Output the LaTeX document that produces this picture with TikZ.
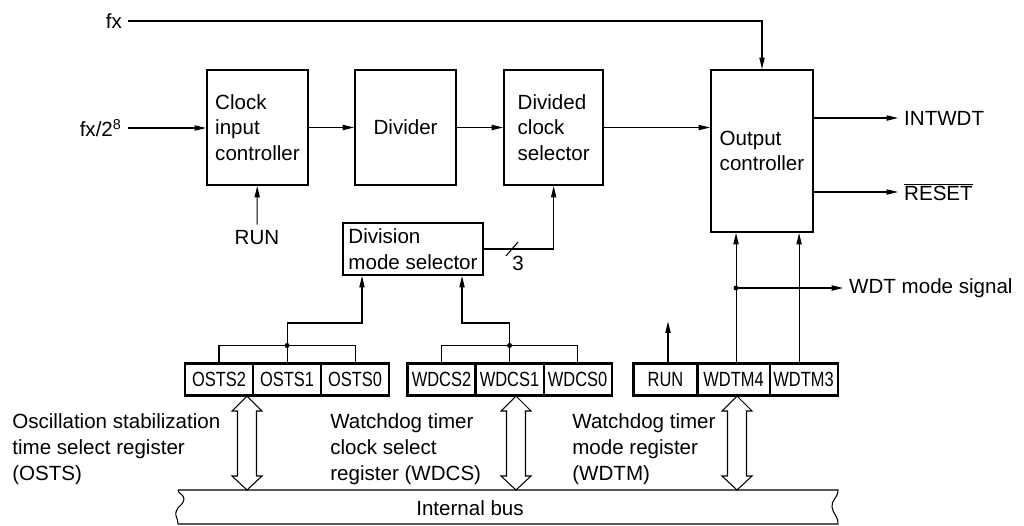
\documentclass[tikz,border=0pt]{standalone}
\usepackage{fontspec}
\setmainfont{Liberation Sans}
\usetikzlibrary{arrows.meta,positioning}
\tikzset{blk/.style={draw,line width=1.2pt,align=left,inner sep=2pt},
 regbit/.style={draw,line width=0.6pt,minimum width=1.34cm,minimum height=0.62cm,inner sep=0pt},
 sig/.style={-{Triangle[length=6.5pt,width=3pt]},line width=0.6pt},
 wire/.style={line width=0.6pt},
 regframe/.style={line width=1.2pt},
 lbl/.style={inner sep=0pt,align=left}}
\newcommand{\regtxt}[1]{\scalebox{0.8}[1]{#1}}
\newcommand{\busarrow}[2]{\draw[wire,fill=white] (#1) -- ++(15,15) -- ++(-5.5,0) -- ([shift={(9.5,-14)}]#2) -- ++(5.5,0) -- (#2) -- ++(-15,-14) -- ++(5.5,0) -- ([shift={(-9.5,15)}]#1) -- ++(-5.5,0) -- cycle;}

\begin{document}
\begin{tikzpicture}[x=0.02cm,y=-0.02cm,font=\fontsize{11.7}{14.7}\selectfont]
\useasboundingbox (0,0) rectangle (1024,525);
% blocks
\node[blk,minimum width=2.02cm,minimum height=2.3cm] (clkin) at (257.5,127.5) {Clock\\input\\controller};
\node[blk,minimum width=2.02cm,minimum height=2.3cm,right=0.9cm of clkin,align=center] (divider) {Divider};
\node[blk,minimum width=1.98cm,minimum height=2.3cm,right=0.92cm of divider] (divsel) {Divided\\clock\\selector};
\node[blk,minimum width=2.04cm,minimum height=3.24cm] (outctl) at (762,151) {Output\\controller};
\node[blk,minimum width=2.8cm,minimum height=1.04cm] (modesel) at (413,249) {Division\\mode selector};
% inputs
\node[anchor=east] (fxin) at (128,21) {fx};
\node[anchor=east] (fx8in) at (128,128) {fx/2\textsuperscript{8}};
\node (runin) at (257,238) {RUN};
\draw[sig] (fxin) -| (outctl);
\draw[sig] (fx8in.east) -- (fx8in.east -| clkin.west);
\draw[sig] (clkin) -- (divider);
\draw[sig] (divider) -- (divsel);
\draw[sig] (divsel) -- (divsel.east -| outctl.west);
\draw[sig] (runin) -- (clkin);
% outputs
\node[anchor=west] (intwdt) at (898,118) {INTWDT};
\node[anchor=west] (rstout) at (898,192) {$\overline{\mbox{RESET}}$};
\draw[sig] (outctl.east |- intwdt.west) -- (intwdt.west);
\draw[sig] (outctl.east |- rstout.west) -- (rstout.west);
% 3-bit select
\draw[sig] (modesel) -| (divsel);
\coordinate (w3) at (512,249);
\draw[wire] ([shift={(-6,7)}]w3) -- ([shift={(6,-7)}]w3);
\node (w3txt) at (518,263) {3};
% registers
\node[regbit] (osts2) at (219,379.5) {\regtxt{OSTS2}};
\node[regbit,right=0pt of osts2] (osts1) {\regtxt{OSTS1}};
\node[regbit,right=0pt of osts1] (osts0) {\regtxt{OSTS0}};
\draw[regframe] (osts2.north west) rectangle (osts0.south east);
\node[regbit] (wdcs2) at (441.5,379.5) {\regtxt{WDCS2}};
\node[regbit,right=0pt of wdcs2] (wdcs1) {\regtxt{WDCS1}};
\node[regbit,right=0pt of wdcs1] (wdcs0) {\regtxt{WDCS0}};
\draw[regframe] (wdcs2.north west) rectangle (wdcs0.south east);
\node[regbit,minimum width=1.26cm] (runbit) at (665.5,379.5) {\regtxt{RUN}};
\node[regbit,minimum width=1.42cm,right=0pt of runbit] (wdtm4) {\regtxt{WDTM4}};
\node[regbit,right=0pt of wdtm4] (wdtm3) {\regtxt{WDTM3}};
\draw[regframe] (runbit.north west) rectangle (wdtm3.south east);
% selector wiring
\coordinate (msA) at (362,323);
\coordinate (msB) at (462,323);
\coordinate (osdot) at ([yshift=0.36cm]osts1.north);
\coordinate (wddot) at ([yshift=0.36cm]wdcs1.north);
\draw[wire] (osts2.north) |- (osdot) -| (osts0.north);
\draw[sig] (osts1.north) -- (osdot) |- (msA) -- (msA |- modesel.south);
\fill (osdot) circle (0.05cm);
\draw[wire] (wdcs2.north) |- (wddot) -| (wdcs0.north);
\draw[sig] (wdcs1.north) -- (wddot) |- (msB) -- (msB |- modesel.south);
\fill (wddot) circle (0.05cm);
% mode register wiring
\coordinate (m4) at ([xshift=0.05cm]wdtm4.north);
\coordinate (m3) at ([xshift=-0.09cm]wdtm3.north);
\coordinate (runfree) at ([xshift=0.05cm,yshift=0.84cm]runbit.north);
\draw[sig] ([xshift=0.05cm]runbit.north) -- (runfree);
\node[anchor=west] (wdtsig) at (843,288) {WDT mode signal};
\draw[sig] (m4) -- (m4 |- outctl.south);
\draw[sig] (m3) -- (m3 |- outctl.south);
\fill (m4 |- wdtsig.west) circle (0.05cm);
\draw[sig] (m4 |- wdtsig.west) -- (wdtsig.west);
% internal bus
\draw[wire] (178,490) -- (838,490) .. controls (838,498) and (831,500) .. (832,507)
 .. controls (833,514) and (838,516) .. (838,524) -- (178,524)
 .. controls (178,518) and (175,517) .. (176,512) .. controls (177,506) and (184,505) .. (184,499)
 .. controls (184,494) and (178,494) .. (178,490);
\node (bus) at (470,508) {Internal bus};
\coordinate (oTop) at (247,396);
\coordinate (oBot) at (247,490);
\coordinate (wTop) at (516,396);
\coordinate (wBot) at (516,490);
\coordinate (mTop) at (737,396);
\coordinate (mBot) at (737,490);
\busarrow{oTop}{oBot}
\busarrow{wTop}{wBot}
\busarrow{mTop}{mBot}
% register names
\node[lbl,anchor=west] (ostslbl) at (12,449) {Oscillation stabilization\\time select register\\(OSTS)};
\node[lbl,anchor=west] (wdcslbl) at (330,449) {Watchdog timer\\clock select\\register (WDCS)};
\node[lbl,anchor=west] (wdtmlbl) at (572,449) {Watchdog timer\\mode register\\(WDTM)};
\end{tikzpicture}
\end{document}
